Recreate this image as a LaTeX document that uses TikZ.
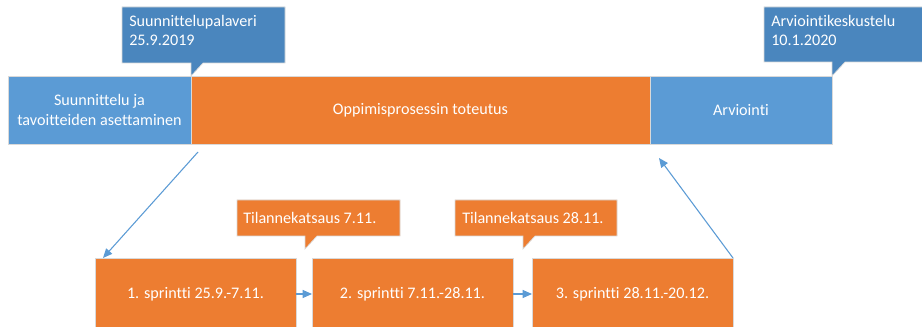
\documentclass[tikz,border=0pt]{standalone}
\usepackage{fontspec}
\setmainfont{Carlito}[Ligatures=NoCommon]
\usetikzlibrary{arrows.meta}
\definecolor{phaseblue}{HTML}{5B9BD5}
\definecolor{noteblue}{HTML}{4A86BE}
\definecolor{work}{HTML}{ED7D31}
\definecolor{edge}{HTML}{D9D9D9}
\tikzset{
  x=0.75pt, y=-0.75pt,
  phase/.style={draw=edge, line width=0.6pt},
  note/.style={draw=edge, line width=0.5pt},
  link/.style={draw=phaseblue, line width=0.8pt, -{Triangle[length=7pt,width=6pt]}},
  lbl/.style={text=white, font=\fontsize{12.1}{14.5}\selectfont, inner sep=0pt},
}
\begin{document}
\begin{tikzpicture}
\useasboundingbox (0,0) rectangle (922,327);
\fill[white] (0,0) rectangle (922,327);

% phase bar
\path[phase, fill=phaseblue] (8,76) rectangle (191,144);
\path[phase, fill=work] (191,76) rectangle (650,144);
\path[phase, fill=phaseblue] (650,76) rectangle (832,144);
\node[lbl, align=center] (plan) at (99.5,110) {Suunnittelu ja\\tavoitteiden asettaminen};
\node[lbl] (impl) at (420.5,110) {Oppimisprosessin toteutus};
\node[lbl] (eval) at (741,110) {Arviointi};
\coordinate (implL) at (198,152);
\coordinate (implR) at (659,158);

% callouts above the bar
\path[note, fill=noteblue] (122,7) -- (285,7) -- (285,63) -- (203,63) -- (191,76) -- (191,63) -- (122,63) -- cycle;
\node[lbl, align=left, anchor=north west] (meet1) at (129,15) {Suunnittelupalaveri\\25.9.2019};
\path[note, fill=noteblue] (764,7) -- (924,7) -- (924,62) -- (845,62) -- (832,76) -- (832,62) -- (764,62) -- cycle;
\node[lbl, align=left, anchor=north west] (meet2) at (771,15) {Arviointikeskustelu\\10.1.2020};

% sprints
\path[phase, fill=work] (95,258) rectangle (296,340);
\path[phase, fill=work] (312,258) rectangle (513,340);
\path[phase, fill=work] (532,258) rectangle (733,340);
\node[lbl] (s1) at (195.5,294) {1. sprintti 25.9.-7.11.};
\node[lbl] (s2) at (412.5,294) {2. sprintti 7.11.-28.11.};
\node[lbl] (s3) at (632.5,294) {3. sprintti 28.11.-20.12.};
\coordinate (s1NW) at (103,258);
\coordinate (s1E) at (296,294);
\coordinate (s2W) at (312,294);
\coordinate (s2E) at (513,294);
\coordinate (s3W) at (532,294);
\coordinate (s3NE) at (733,258);

% review callouts
\path[note, fill=work] (237,200) -- (400,200) -- (400,236) -- (317,236) -- (305,249) -- (305,236) -- (237,236) -- cycle;
\node[lbl, anchor=west] (r1) at (243,218) {Tilannekatsaus 7.11.};
\path[note, fill=work] (455,200) -- (617,200) -- (617,236) -- (535,236) -- (523,249) -- (523,236) -- (455,236) -- cycle;
\node[lbl, anchor=west] (r2) at (462,218) {Tilannekatsaus 28.11.};

% connectors
\draw[link] (implL) -- (s1NW);
\draw[link] (s1E) -- (s2W);
\draw[link] (s2E) -- (s3W);
\draw[link] (s3NE) -- (implR);
\end{tikzpicture}
\end{document}
